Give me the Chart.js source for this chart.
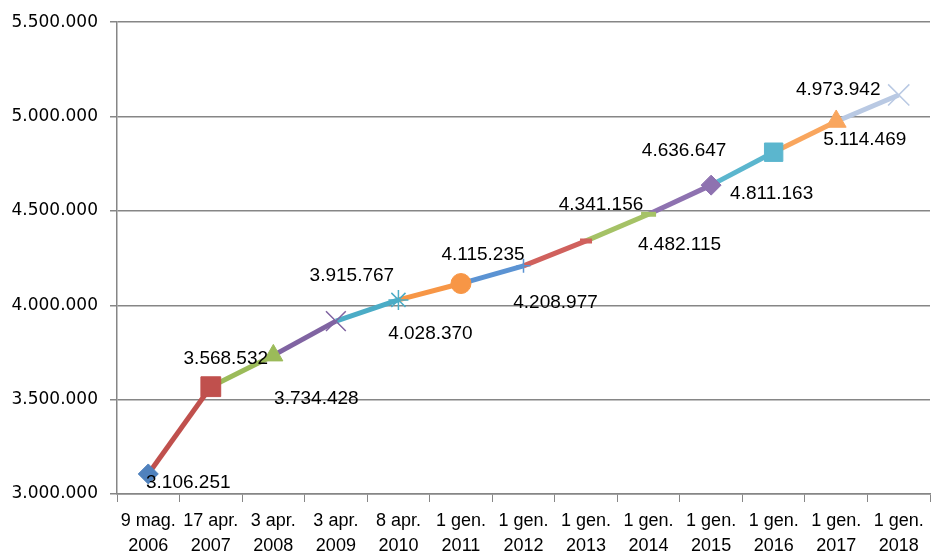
<!DOCTYPE html>
<html>
<head>
<meta charset="utf-8">
<script src="https://cdn.jsdelivr.net/npm/chart.js@4/dist/chart.umd.min.js"></script>
<style>
  html, body { margin: 0; padding: 0; background: #fff; }
  #wrap { width: 932px; height: 553px; position: relative; }
</style>
</head>
<body>
<div id="wrap"><canvas id="chartPopulation"></canvas></div>
<script>
// categories (two-line labels) and values
const dateLabels = [
    ["9 mag.", "2006"], ["17 apr.", "2007"], ["3 apr.", "2008"], ["3 apr.", "2009"],
    ["8 apr.", "2010"], ["1 gen.", "2011"], ["1 gen.", "2012"], ["1 gen.", "2013"],
    ["1 gen.", "2014"], ["1 gen.", "2015"], ["1 gen.", "2016"], ["1 gen.", "2017"],
    ["1 gen.", "2018"]
];
const population = [3106251, 3568532, 3734428, 3915767, 4028370, 4115235, 4208977,
    4341156, 4482115, 4636647, 4811163, 4973942, 5114469];
// labels as printed in the picture (last two appear swapped there)
const valueLabels = ["3.106.251", "3.568.532", "3.734.428", "3.915.767", "4.028.370",
    "4.115.235", "4.208.977", "4.341.156", "4.482.115", "4.636.647", "4.811.163",
    "4.973.942", "5.114.469"];

// styling per point
const colors = ["#4F81BD", "#C0504D", "#9BBB59", "#8064A2", "#4BACC6", "#F79646", "#5B93D3",
    "#D0615D", "#A5C266", "#8E72B0", "#5BB6CE", "#F9A65E", "#B9C9E3"];
const styles = ["rectRot", "rect", "triangle", "crossRot", "star", "circle", "cross",
    "line", "line", "rectRot", "rect", "triangle", "crossRot"];
const radii = [10, 14, 11, 14, 10, 10, 7, 6, 7.5, 10, 13, 11.5, 15];
const labelOffsets = [[40, 9], [15, -28], [43, 43], [16, -45], [32, 34], [22, -29], [32, 37],
    [15, -36], [31, 30], [-27, -34], [-2, 42], [2, -32], [-34, 45]];

const labelPlugin = {
    id: 'valueLabels',
    afterDatasetsDraw(chart) {
        const ctx = chart.ctx;
        const meta = chart.getDatasetMeta(0);
        ctx.save();
        ctx.font = '19px "Liberation Sans", sans-serif';
        ctx.fillStyle = '#000';
        ctx.textAlign = 'center';
        ctx.textBaseline = 'middle';
        meta.data.forEach((pt, i) => {
            ctx.fillText(valueLabels[i], pt.x + labelOffsets[i][0], pt.y + labelOffsets[i][1]);
        });
        ctx.restore();
    }
};

showPopulation();

function showPopulation() {
    const ctx = document.getElementById('chartPopulation').getContext('2d');
    new Chart(ctx, {
        type: 'line',
        data: {
            labels: dateLabels,
            datasets: [
                {
                    label: 'Popolazione',
                    data: population,
                    borderWidth: 5,
                    borderColor: colors[0],
                    segment: {
                        borderColor: c => colors[c.p1DataIndex]
                    },
                    pointStyle: styles,
                    pointRadius: radii,
                    pointBackgroundColor: colors,
                    pointBorderColor: colors,
                    pointBorderWidth: styles.map(s => s === 'line' ? 5 : (s.startsWith('cross') || s === 'star') ? 1.5 : 1),
                    tension: 0
                },
            ]
        },
        options: {
            responsive: true,
            maintainAspectRatio: false,
            animation: false,
            layout: {
                autoPadding: false,
                padding: { top: 20, right: 2, left: 0, bottom: 0 }
            },
            scales: {
                x: {
                    offset: true,
                    afterFit: s => { s.height = 59; },
                    grid: {
                        offset: true,
                        drawOnChartArea: false,
                        drawTicks: true,
                        tickLength: 8,
                        color: '#868686'
                    },
                    border: { color: '#868686', width: 1.5 },
                    ticks: {
                        color: '#000',
                        padding: 6,
                        maxRotation: 0,
                        autoSkip: false,
                        font: { family: '"Liberation Sans", sans-serif', size: 18, lineHeight: 1.42 }
                    }
                },
                y: {
                    min: 3000000,
                    max: 5500000,
                    afterFit: s => { s.width = 117; },
                    grid: {
                        color: '#868686',
                        lineWidth: 1.5,
                        tickLength: 7
                    },
                    border: { color: '#868686', width: 1.5 },
                    ticks: {
                        stepSize: 500000,
                        color: '#000',
                        padding: 12,
                        font: { family: '"DejaVu Sans", sans-serif', size: 17 },
                        callback: v => v.toLocaleString('it-IT').replace(/\s/g, '.')
                    }
                }
            },
            plugins: {
                legend: { display: false },
                title: { display: false },
                tooltip: { enabled: false }
            }
        },
        plugins: [labelPlugin]
    });
}
</script>
</body>
</html>
